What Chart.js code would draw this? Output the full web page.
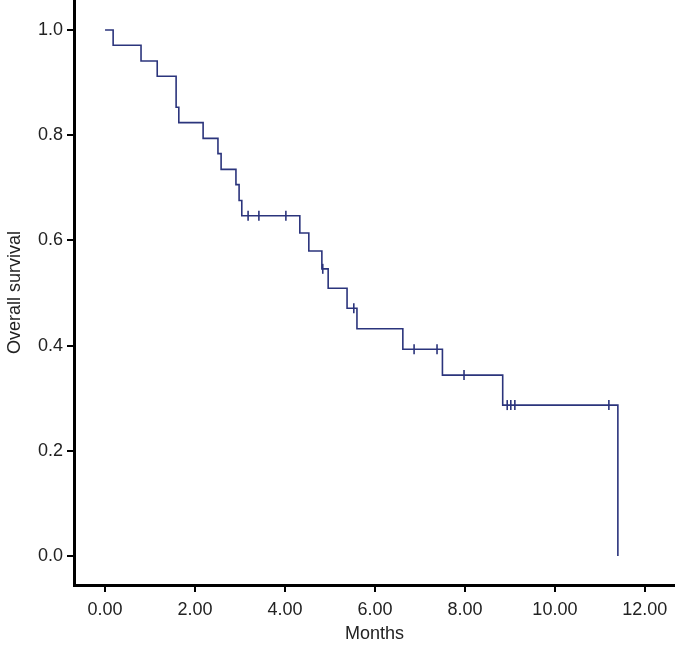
<!DOCTYPE html>
<html>
<head>
<meta charset="utf-8">
<script src="https://cdn.jsdelivr.net/npm/chart.js@4/dist/chart.umd.min.js"></script>
<style>
  html, body { margin: 0; padding: 0; background: #fff; }
  #wrap { width: 675px; height: 650px; }
</style>
</head>
<body>
<div id="wrap"><canvas id="km"></canvas></div>
<script>
"use strict";

// Kaplan-Meier steps (months, survival)
const stepTimes = [0, 0.18, 0.80, 1.16, 1.58, 1.64, 2.18, 2.51, 2.58, 2.91, 2.98, 3.04,
                   4.33, 4.53, 4.82, 4.96, 5.38, 5.60, 6.62, 7.50, 8.84, 11.40];
const stepSurvival = [1.0, 0.971, 0.941, 0.912, 0.853, 0.824, 0.794, 0.765, 0.735, 0.706, 0.676, 0.647,
                      0.614, 0.580, 0.546, 0.509, 0.471, 0.432, 0.393, 0.344, 0.287, 0.0];

// censored observations
const censorTimes = [3.18, 3.42, 4.02, 4.84, 5.53, 6.87, 7.38, 7.98, 8.94, 9.02, 9.11, 11.20];
const censorSurvival = [0.647, 0.647, 0.647, 0.546, 0.471, 0.393, 0.393, 0.344, 0.287, 0.287, 0.287, 0.287];

const FONT = "'Liberation Sans', Arial, sans-serif";
const LINE_COLOR = '#2b347c';

const stepPoints = stepTimes.map((t, i) => ({ x: t, y: stepSurvival[i] }));
const censorPoints = censorTimes.map((t, i) => ({ x: t, y: censorSurvival[i] }));

// drop the automatic label padding so the axes reach the canvas edges
function noPad(s) {
    s.paddingTop = 0;
    s.paddingBottom = 0;
    s.paddingLeft = 0;
    s.paddingRight = 0;
}

new Chart(document.getElementById('km').getContext('2d'), {
    type: 'line',
    data: {
        datasets: [{
            data: stepPoints,
            borderColor: LINE_COLOR,
            borderWidth: 1.6,
            stepped: 'before',
            pointRadius: 0,
            fill: false
        }, {
            type: 'scatter',
            data: censorPoints,
            showLine: false,
            pointStyle: 'line',
            rotation: 90,
            pointRadius: 5,
            borderColor: LINE_COLOR,
            borderWidth: 1.6
        }]
    },
    options: {
        responsive: true,
        maintainAspectRatio: false,
        animation: false,
        layout: { padding: 0, autoPadding: false },
        plugins: {
            legend: { display: false },
            tooltip: { enabled: false }
        },
        scales: {
            x: {
                type: 'linear',
                min: -0.69,
                max: 12.67,
                afterFit: (s) => { s.height = 65; noPad(s); },
                border: { color: '#000', width: 3 },
                grid: { drawOnChartArea: false, drawTicks: true, tickLength: 7, color: '#000', lineWidth: 2 },
                ticks: {
                    stepSize: 2,
                    includeBounds: false,
                    maxRotation: 0,
                    padding: 7,
                    color: '#222',
                    font: { family: FONT, size: 18 },
                    callback: (v) => v.toFixed(2)
                },
                title: {
                    display: true,
                    text: 'Months',
                    color: '#222',
                    font: { family: FONT, size: 18 },
                    padding: { top: 0, bottom: 5 }
                }
            },
            y: {
                type: 'linear',
                min: -0.055,
                max: 1.057,
                afterFit: (s) => { s.width = 74; noPad(s); },
                border: { color: '#000', width: 3 },
                grid: { drawOnChartArea: false, drawTicks: true, tickLength: 7, color: '#000', lineWidth: 2 },
                ticks: {
                    stepSize: 0.2,
                    includeBounds: false,
                    padding: 4,
                    color: '#222',
                    font: { family: FONT, size: 18 },
                    callback: (v) => v.toFixed(1)
                },
                title: {
                    display: true,
                    text: 'Overall survival',
                    color: '#222',
                    font: { family: FONT, size: 18 },
                    padding: { top: 4, bottom: 0 }
                }
            }
        }
    }
});
</script>
</body>
</html>
